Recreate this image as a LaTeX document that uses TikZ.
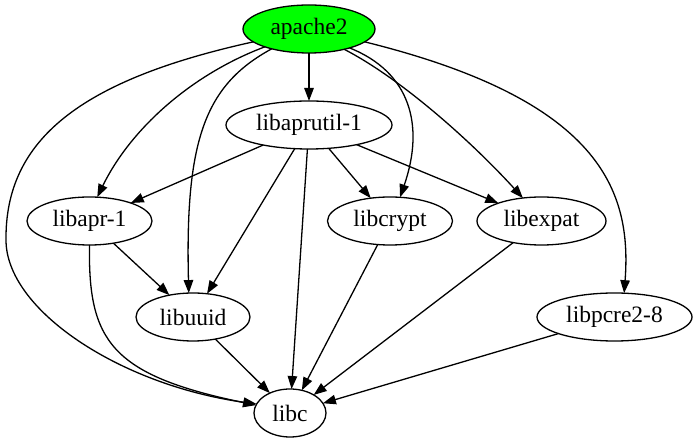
\documentclass[tikz,border=0pt]{standalone}
\usepackage{fontspec}
\setmainfont{Liberation Serif}
\usetikzlibrary{shapes.geometric,arrows.meta}
\begin{document}
\begin{tikzpicture}[x=1pt,y=-1pt,
  nd/.style={ellipse, draw, line width=1.3pt, minimum height=48pt, inner sep=0pt, outer sep=0pt,
    font=\fontsize{23.5}{28}\selectfont},
  edge/.style={line width=1.3pt, -{Triangle[length=13pt,width=9.5pt]}}]
\useasboundingbox (0,0) rectangle (697,443);
\node[nd, fill={rgb,255:red,0;green,255;blue,0}, minimum width=132pt] (apache2) at (309,29) {apache2};
\node[nd, minimum width=166pt] (aprutil) at (309,125) {libaprutil-1};
\node[nd, minimum width=125pt] (apr) at (89.5,221) {libapr-1};
\node[nd, minimum width=125pt] (crypt) at (390,221) {libcrypt};
\node[nd, minimum width=129pt] (expat) at (541.5,221) {libexpat};
\node[nd, minimum width=114pt] (uuid) at (193,317) {libuuid};
\node[nd, minimum width=155pt] (pcre) at (614.5,317) {libpcre2-8};
\node[nd, minimum width=72pt] (libc) at (290,413) {libc};
% apache2 edges
\draw[edge] (apache2) -- (aprutil);
\draw[edge] (apache2.202) .. controls (190,75) and (130,130) .. (apr.72);
\draw[edge] (apache2.208) .. controls (205,85) and (185,140) .. (uuid.100);
\draw[edge] (apache2.193) .. controls (80,80) and (5,140) .. (6,240) .. controls (6,310) and (120,385) .. (libc.165);
\draw[edge] (apache2.335) .. controls (410,72) and (425,125) .. (crypt.67);
\draw[edge] (apache2.330) .. controls (400,78) and (470,140) .. (expat.129);
\draw[edge] (apache2.347) .. controls (600,100) and (632,190) .. (pcre.68);
% libaprutil-1 edges
\draw[edge] (aprutil) -- (apr);
\draw[edge] (aprutil) -- (uuid);
\draw[edge] (aprutil) -- (libc);
\draw[edge] (aprutil) -- (crypt);
\draw[edge] (aprutil) -- (expat);
% libapr-1 edges
\draw[edge] (apr) -- (uuid);
\draw[edge] (apr.south) .. controls (88,340) and (110,375) .. (libc.167);
% others
\draw[edge] (uuid) -- (libc);
\draw[edge] (crypt) -- (libc);
\draw[edge] (expat) -- (libc);
\draw[edge] (pcre) -- (libc);
\end{tikzpicture}
\end{document}
